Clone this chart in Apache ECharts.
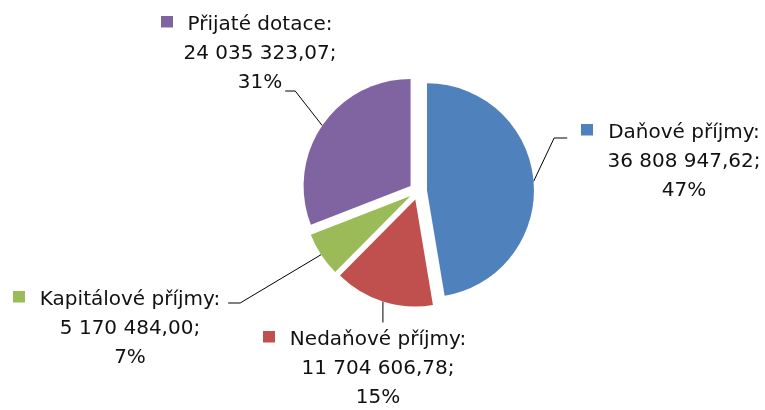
<!DOCTYPE html>
<html><head><meta charset="utf-8">
<script src="https://cdn.jsdelivr.net/npm/echarts@6/dist/echarts.min.js"></script>
<style>html,body{margin:0;padding:0;background:#fff}#c{width:765px;height:410px}</style>
</head><body><div id="c"></div>
<script>
const categories = ['Daňové příjmy', 'Nedaňové příjmy', 'Kapitálové příjmy', 'Přijaté dotace'];
const values = [36808947.62, 11704606.78, 5170484.00, 24035323.07];
const colors = ['#4F81BD', '#C0504D', '#9BBB59', '#8064A2'];

const FONT = '"DejaVu Sans", sans-serif';
const FS = 20, LH = 29, MARK = 12, GAP = 15;
const TEXT_COLOR = '#111';
const PIE_C = [418, 191], PIE_R = 107, EXPLODE = 9;

// label placement: text centre x and first-line centre y
const labelPos = [
  {cx: 684, y1: 133, side: 'right'},
  {cx: 378, y1: 340, side: 'bottom'},
  {cx: 130, y1: 300, side: 'left1'},
  {cx: 260, y1: 25, side: 'left3'}
];

const total = values.reduce((a, b) => a + b, 0);
function pctText(i) { return Math.round(values[i] / total * 100) + '%'; }
function fmtNum(v) {
  const parts = v.toFixed(2).split('.');
  return parts[0].replace(/\B(?=(\d{3})+(?!\d))/g, ' ') + ',' + parts[1];
}
const ctx = document.createElement('canvas').getContext('2d');
ctx.font = FS + 'px ' + FONT;
function tw(s) { return ctx.measureText(s).width; }

// legend-key square, drawn raised a little above the line's middle
function keyImage(color) {
  const cv = document.createElement('canvas');
  cv.width = MARK; cv.height = MARK + 7;
  const g = cv.getContext('2d');
  g.fillStyle = color; g.fillRect(0, 0, MARK, MARK);
  return cv;
}

const rich = {
  g: {width: GAP, align: 'center'},
  r: {width: MARK + GAP, align: 'center'},
  t: {fontSize: FS, fontFamily: FONT, color: TEXT_COLOR, lineHeight: LH, align: 'center'}
};
colors.forEach((c, i) => {
  rich['m' + i] = {width: MARK, height: MARK + 7, backgroundColor: {image: keyImage(c)}, align: 'center'};
});

function labelLayoutFn(params) {
  const i = params.dataIndex;
  const p = labelPos[i];
  const top = p.y1 - LH / 2;
  const start = params.labelLinePoints ? params.labelLinePoints[0] : [0, 0];
  const l1w = tw(categories[i] + ':');
  let end, elbow;
  if (p.side === 'right') {
    const left = p.cx - l1w / 2 - MARK - GAP;
    end = [left - 14, p.y1 + 5]; elbow = [end[0] - 13, end[1]];
  } else if (p.side === 'left3') {
    end = [p.cx + tw(pctText(i)) / 2 + 3, p.y1 + 2 * LH + 8]; elbow = [end[0] + 10, end[1]];
  } else if (p.side === 'left1') {
    end = [p.cx + l1w / 2 + 8, p.y1 + 3]; elbow = [end[0] + 12, end[1]];
  } else {
    end = [start[0], top - 3]; elbow = end;
  }
  return {x: p.cx, y: top, align: 'center', verticalAlign: 'top', labelLinePoints: [start, elbow, end]};
}

// one pie series per slice (exploded look): only its own slice is visible
let cum = 0;
const series = categories.map((name, k) => {
  const mid = (cum + values[k] / 2) / total * 2 * Math.PI;
  cum += values[k];
  return {
    type: 'pie',
    center: [PIE_C[0] + EXPLODE * Math.sin(mid), PIE_C[1] - EXPLODE * Math.cos(mid)],
    radius: PIE_R,
    startAngle: 90,
    clockwise: true,
    avoidLabelOverlap: false,
    silent: true,
    emphasis: {disabled: true},
    data: categories.map((n, i) => ({
      name: n, value: values[i],
      itemStyle: {color: colors[i], opacity: i === k ? 1 : 0},
      label: {show: i === k},
      labelLine: {show: i === k}
    })),
    label: {
      position: 'outside',
      formatter: function (p) {
        const i = p.dataIndex;
        return '{m' + i + '|}{g|}{t|' + categories[i] + ':}{r|}\n{t|' + fmtNum(values[i]) + ';}\n{t|' + pctText(i) + '}';
      },
      rich: rich
    },
    labelLine: {length: 10, length2: 10, lineStyle: {color: '#000', width: 1}},
    labelLayout: labelLayoutFn
  };
});

const chart = echarts.init(document.getElementById('c'), null, {renderer: 'canvas'});
chart.setOption({animation: false, backgroundColor: '#fff', series: series});
</script></body></html>
